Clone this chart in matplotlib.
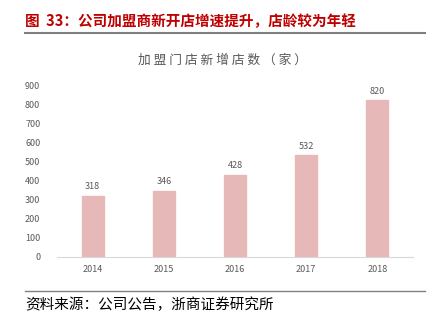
import matplotlib.pyplot as plt
from matplotlib.lines import Line2D

plt.rcParams['font.family'] = ['Noto Sans CJK SC', 'DejaVu Sans']

years = ['2014', '2015', '2016', '2017', '2018']
new_stores = [318, 346, 428, 532, 820]
yticks = [0, 100, 200, 300, 400, 500, 600, 700, 800, 900]

fig = plt.figure(figsize=(4.32, 3.22), dpi=100)
ax = fig.add_axes([0.132, 0.202, 0.824, 0.534])

x = range(len(years))
bars = ax.bar(x, new_stores, width=0.31, color='#E6B8B7', edgecolor='#E6B8B7')
for xi, v in zip(x, new_stores):
    ax.text(xi, v + 25, str(v), ha='center', va='bottom', fontsize=6.5, color='#595959')

ax.set_xlim(-0.5, 4.5)
ax.set_ylim(0, 900)
ax.set_xticks(list(x))
ax.set_xticklabels(years)
ax.set_yticks(yticks)
ax.tick_params(axis='both', length=0, labelsize=6.5, colors='#595959')
ax.tick_params(axis='y', pad=12)
ax.tick_params(axis='x', pad=6)
for side in ['top', 'right', 'left']:
    ax.spines[side].set_visible(False)
ax.spines['bottom'].set_color('#D9D9D9')
ax.spines['bottom'].set_linewidth(0.8)

# chart title
fig.text(0.514, 0.813, '加 盟 门 店 新 增 店 数 （ 家 ）', ha='center', va='center',
         fontsize=9.2, color='#595959')

# figure header and source
fig.text(0.058, 0.935, '图  33：公司加盟商新开店增速提升，店龄较为年轻', ha='left', va='center',
         fontsize=10.5, fontweight='bold', color='#C00000')
fig.add_artist(Line2D([0.058, 0.984], [0.897, 0.897], color='#808080', linewidth=1.5))
fig.add_artist(Line2D([0.058, 0.984], [0.097, 0.097], color='#808080', linewidth=1.0))
fig.text(0.058, 0.052, '资料来源：公司公告，浙商证券研究所', ha='left', va='center',
         fontsize=10.5, color='#000000', fontweight='light')

fig.savefig('out.png', dpi=100)
